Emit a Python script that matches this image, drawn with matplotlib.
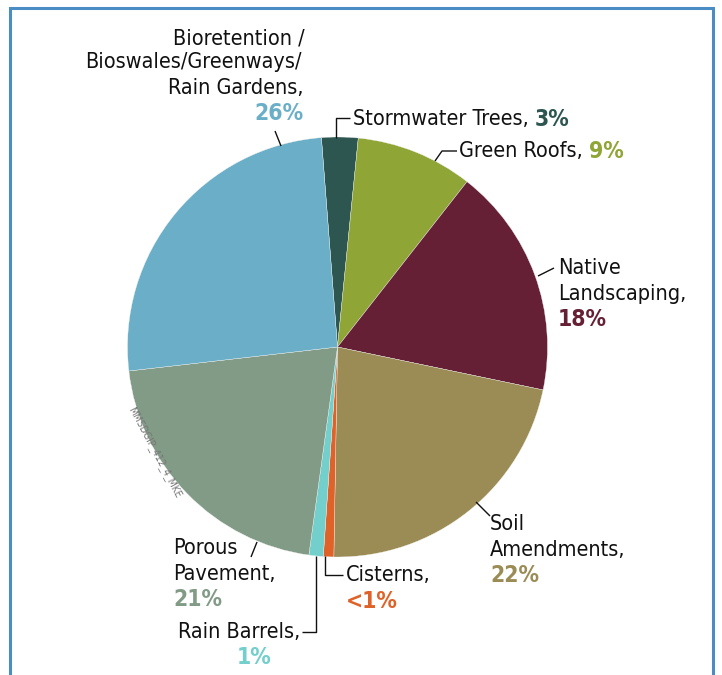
import matplotlib
matplotlib.use("Agg")
import matplotlib.pyplot as plt
from matplotlib import font_manager

# ---- data ----
categories = ["Stormwater Trees", "Green Roofs", "Native Landscaping", "Soil Amendments",
              "Cisterns", "Rain Barrels", "Porous Pavement", "Bioretention/Bioswales/Greenways/Rain Gardens"]
values = [2.8, 9.0, 17.7, 22.0, 0.8, 1.1, 21.0, 25.6]
pct_labels = ["3%", "9%", "18%", "22%", "<1%", "1%", "21%", "26%"]
colors = ["#2d5650", "#8fa636", "#662035", "#9b8c56", "#df6328", "#72cfcb", "#829b86", "#6aafc7"]

names = [f.name for f in font_manager.fontManager.ttflist]
if "Liberation Sans Narrow" in names:
    FAM = "Liberation Sans Narrow"
    STRETCH = "normal"
else:
    FAM = "DejaVu Sans"
    STRETCH = "condensed"

W, H = 722, 675
fig = plt.figure(figsize=(W / 100, H / 100), dpi=100)
ax = fig.add_axes([0, 0, 1, 1])
ax.set_xlim(0, W)
ax.set_ylim(0, H)
ax.set_aspect("equal")
ax.axis("off")

def Y(y):
    return H - y

# frame
frame_c = "#4a8cc4"
ax.plot([10, 10, 713, 713], [Y(680), Y(8), Y(8), Y(680)], color=frame_c, lw=2.2,
        solid_joinstyle="miter", clip_on=False)

cx, cy, r = 337.5, 347, 210
ax.pie(values, colors=colors, startangle=94.4, counterclock=False,
       center=(cx, Y(cy)), radius=r, frame=True,
       wedgeprops=dict(linewidth=0.25, edgecolor="#f4f4f4"))
ax.set_xlim(0, W)
ax.set_ylim(0, H)
ax.axis("off")

FS = 15.5
BFS = 16.5
def txt(x, y, s, ha="left", color="#111111", bold=False):
    ax.text(x, Y(y), s, ha=ha, va="center", color=color, fontsize=BFS if bold else FS,
            family=FAM, stretch=STRETCH, fontweight="bold" if bold else "normal")

def line(xs, ys):
    ax.plot(xs, [Y(v) for v in ys], color="#111111", lw=1.0, solid_capstyle="butt")

def width_of(s, bold=False):
    t = ax.text(0, 0, s, fontsize=BFS if bold else FS, family=FAM, stretch=STRETCH,
                fontweight="bold" if bold else "normal")
    fig.canvas.draw()
    w = t.get_window_extent().width
    t.remove()
    return w

# Bioretention
txt(305, 38, "Bioretention /", ha="right")
txt(302, 62, "Bioswales/Greenways/", ha="right")
txt(304, 88, "Rain Gardens,", ha="right")
txt(304, 114, pct_labels[7], ha="right", color=colors[7], bold=True)
line([275, 281], [131, 146])

# Stormwater Trees
line([336, 336, 350], [138, 118, 118])
txt(353, 119, "Stormwater Trees, ")
txt(353 + width_of("Stormwater Trees, "), 119, pct_labels[0], color=colors[0], bold=True)

# Green Roofs
line([435, 442, 457], [161, 151, 151])
txt(459, 151, "Green Roofs, ")
txt(459 + width_of("Green Roofs, "), 151, pct_labels[1], color=colors[1], bold=True)

# Native Landscaping
line([538, 554], [276, 268])
txt(558, 268, "Native")
txt(558, 294, "Landscaping,")
txt(558, 320, pct_labels[2], color=colors[2], bold=True)

# Soil Amendments
line([476, 490], [502, 516])
txt(490, 524, "Soil")
txt(490, 550, "Amendments,")
txt(490, 576, pct_labels[3], color=colors[3], bold=True)

# Cisterns
line([324.5, 324.5, 343], [556, 575, 575])
txt(346, 575, "Cisterns,")
txt(346, 601, pct_labels[4], color=colors[4], bold=True)

# Rain Barrels
line([315.5, 315.5, 302], [556, 632, 632])
txt(300, 632, "Rain Barrels,", ha="right")
txt(254, 657, pct_labels[5], ha="center", color=colors[5], bold=True)

# Porous Pavement
line([257, 251], [542, 557])
txt(173, 548, "Porous")
txt(173, 574, "Pavement,")
txt(173, 600, pct_labels[6], color=colors[6], bold=True)

# watermark
ax.text(155, Y(452), "MMSDGIP_412_4_MKE", rotation=-62, ha="center", va="center",
        fontsize=7.5, color="#777777", family=FAM, stretch=STRETCH)

fig.savefig("out.png", dpi=100)
